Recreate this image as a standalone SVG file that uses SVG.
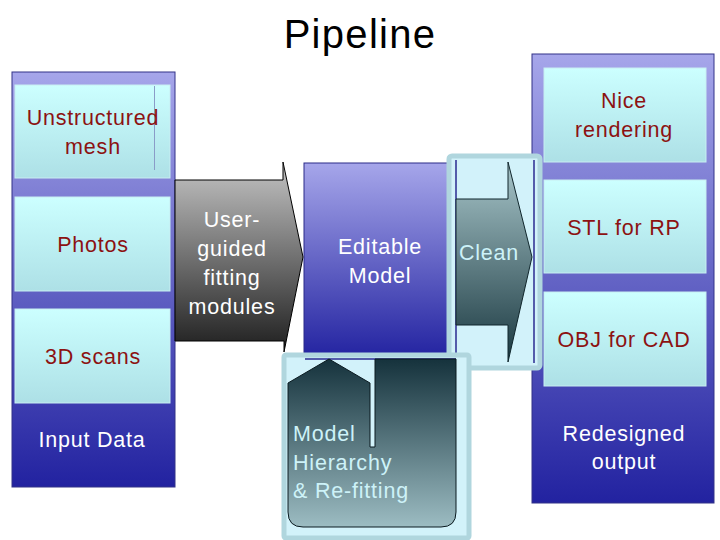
<svg xmlns="http://www.w3.org/2000/svg" width="720" height="540" viewBox="0 0 720 540">
<defs>
<linearGradient id="gCol" x1="0" y1="0" x2="0" y2="1">
<stop offset="0" stop-color="#a6a6ea"/>
<stop offset="1" stop-color="#2222a0"/>
</linearGradient>
<linearGradient id="gBox" x1="0" y1="0" x2="0" y2="1">
<stop offset="0" stop-color="#ccffff"/>
<stop offset="1" stop-color="#ade0e6"/>
</linearGradient>
<linearGradient id="gGray" x1="0" y1="0" x2="0" y2="1">
<stop offset="0" stop-color="#c4c4c4"/>
<stop offset="1" stop-color="#1e1e1e"/>
</linearGradient>
<linearGradient id="gTeal" x1="0" y1="0" x2="0" y2="1">
<stop offset="0" stop-color="#a8c6ca"/>
<stop offset="1" stop-color="#1a3840"/>
</linearGradient>
<linearGradient id="gTeal2" x1="0" y1="0" x2="0" y2="1">
<stop offset="0" stop-color="#15323c"/>
<stop offset="1" stop-color="#9cbcc2"/>
</linearGradient>
<style>
text{font-family:"Liberation Sans",Arial,sans-serif;font-size:21.5px;letter-spacing:0.8px;text-anchor:middle}
.red{fill:#8c1212}
.white{fill:#ffffff}
.cyan{fill:#cdf2f8}
.col{fill:url(#gCol);stroke:#333388;stroke-width:1}
.box{fill:url(#gBox);stroke:#c8eef2;stroke-width:1}
.frame{fill:#d2f2fa;stroke:#b0d6de;stroke-width:5}
.edge{stroke:#2a2a90;stroke-width:1.5;fill:none}
</style>
</defs>
<rect width="720" height="540" fill="#ffffff"/>
<text x="360" y="48" style="font-size:40px;letter-spacing:1.3px" fill="#000000">Pipeline</text>

<g id="input-data">
<rect class="col" x="12" y="72" width="163" height="415"/>
<rect class="box" x="15" y="85" width="155" height="93"/>
<line x1="154.5" y1="86" x2="154.5" y2="170" stroke="#8a9cc8" stroke-width="1"/>
<rect class="box" x="15" y="197" width="155" height="94"/>
<rect class="box" x="15" y="309" width="155" height="94"/>
<text class="red" x="93" y="125">Unstructured</text>
<text class="red" x="93" y="154">mesh</text>
<text class="red" x="93" y="252">Photos</text>
<text class="red" x="93" y="364">3D scans</text>
<text class="white" x="92" y="447">Input Data</text>
</g>

<g id="output">
<rect class="col" x="532" y="54" width="182" height="449"/>
<rect class="box" x="544" y="68" width="162" height="94"/>
<rect class="box" x="544" y="180" width="162" height="93"/>
<rect class="box" x="544" y="292" width="162" height="94"/>
<text class="red" x="624" y="108">Nice</text>
<text class="red" x="624" y="137">rendering</text>
<text class="red" x="624" y="235">STL for RP</text>
<text class="red" x="624" y="347">OBJ for CAD</text>
<text class="white" x="624" y="441">Redesigned</text>
<text class="white" x="624" y="469">output</text>
</g>

<g id="editable-model">
<rect x="304" y="163" width="152" height="196" fill="url(#gCol)" stroke="#2a2a88" stroke-width="1"/>
<text class="white" x="380" y="254">Editable</text>
<text class="white" x="380" y="283">Model</text>
</g>

<g id="connectors">
<g id="fitting">
<path d="M175 180 L283 180 L283 162 L303 257 L284 352 L284 341 L175 341 Z" fill="url(#gGray)" stroke="#000000" stroke-width="1"/>
<text class="white" x="232" y="227">User-</text>
<text class="white" x="232" y="256">guided</text>
<text class="white" x="232" y="285">fitting</text>
<text class="white" x="232" y="314">modules</text>
</g>
<g id="clean">
<rect class="frame" x="449" y="156" width="91" height="212" rx="3"/>
<line class="edge" x1="456" y1="160" x2="456" y2="359"/>
<line class="edge" x1="534" y1="160" x2="534" y2="363"/>
<path d="M456 199 L508 199 L508 162 L532 257 L508 362 L508 325 L456 325 Z" fill="url(#gTeal)" stroke="#10262c" stroke-width="1"/>
<text class="cyan" x="489" y="260">Clean</text>
</g>
<g id="hierarchy">
<rect class="frame" x="284" y="355" width="185" height="183" rx="2"/>
<line class="edge" x1="305" y1="359" x2="456" y2="359" stroke-width="1"/>
<path d="M288 383 L329 359 L370 383 L370 447 L375 447 L375 359 L456 359 L456 512 Q456 527 441 527 L303 527 Q288 527 288 512 Z" fill="url(#gTeal2)" stroke="#0a1a20" stroke-width="1"/>
<text class="cyan" x="293" y="441" style="text-anchor:start">Model</text>
<text class="cyan" x="293" y="470" style="text-anchor:start">Hierarchy</text>
<text class="cyan" x="293" y="498" style="text-anchor:start">&amp; Re-fitting</text>
</g>
</g>
</svg>
